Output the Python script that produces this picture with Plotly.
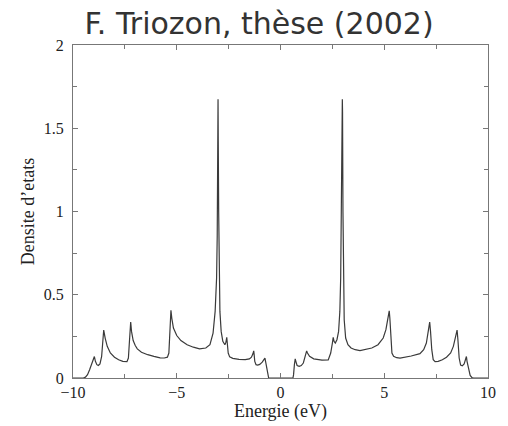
import plotly.graph_objects as go

# Energy (eV) and density of states
energy_neg = [-10, -9.5, -9.4, -9.3, -9.2, -9.1, -9.03, -8.97, -8.92, -8.85, -8.78, -8.7,
              -8.62, -8.56, -8.52, -8.45, -8.35, -8.2, -8.0, -7.8, -7.6, -7.4, -7.33,
              -7.29, -7.26, -7.22, -7.18, -7.1, -7.0, -6.9, -6.7, -6.4, -6.1, -5.8,
              -5.6, -5.45, -5.38, -5.33, -5.3, -5.28, -5.24, -5.16, -5.0, -4.8, -4.5,
              -4.2, -3.9, -3.6, -3.4, -3.25, -3.15, -3.08, -3.05, -3.03, -3.01, -3.0,
              -2.98, -2.96, -2.92, -2.86, -2.78, -2.68, -2.63, -2.59, -2.56, -2.52,
              -2.45, -2.3, -2.0, -1.7, -1.5, -1.4, -1.33, -1.29, -1.27, -1.24, -1.18,
              -1.1, -1.0, -0.88, -0.8, -0.75, -0.72, -0.66, -0.61, -0.57]
dos_neg = [0, 0, 0.005, 0.02, 0.05, 0.09, 0.12, 0.129, 0.1, 0.08, 0.075, 0.085,
           0.13, 0.22, 0.288, 0.24, 0.19, 0.15, 0.125, 0.11, 0.1, 0.098, 0.12,
           0.2, 0.3, 0.336, 0.28, 0.225, 0.195, 0.175, 0.155, 0.14, 0.13, 0.121,
           0.12, 0.125, 0.15, 0.25, 0.36, 0.407, 0.36, 0.3, 0.255, 0.225, 0.2,
           0.185, 0.175, 0.18, 0.2, 0.27, 0.4, 0.6, 0.85, 1.42, 1.674, 1.42,
           1.0, 0.6, 0.4, 0.28, 0.22, 0.2, 0.215, 0.244, 0.21, 0.15,
           0.127, 0.118, 0.112, 0.11, 0.115, 0.125, 0.145, 0.163, 0.14, 0.1, 0.08,
           0.078, 0.082, 0.095, 0.11, 0.119, 0.1, 0.05, 0.01, 0.0]

energy_pos = [0.6, 0.63, 0.67, 0.71, 0.74, 0.8, 0.9, 1.0, 1.1, 1.18, 1.23, 1.26, 1.3,
              1.4, 1.6, 2.0, 2.3, 2.42, 2.5, 2.54, 2.58, 2.64, 2.72, 2.8, 2.86, 2.9,
              2.93, 2.96, 2.98, 2.99, 3.01, 3.03, 3.07, 3.14, 3.25, 3.4, 3.6, 3.83,
              4.1, 4.4, 4.7, 4.95, 5.08, 5.16, 5.21, 5.24, 5.27, 5.31, 5.37, 5.45,
              5.6, 5.76, 6.0, 6.3, 6.72, 6.9, 7.03, 7.12, 7.19, 7.23, 7.29, 7.36,
              7.45, 7.6, 7.8, 8.0, 8.2, 8.33, 8.43, 8.51, 8.55, 8.61, 8.68, 8.76,
              8.85, 8.92, 8.96, 8.99, 9.06, 9.14, 9.22, 9.3, 10]
dos_pos = [0.0, 0.02, 0.08, 0.115, 0.1, 0.075, 0.07, 0.075, 0.09, 0.125, 0.155, 0.163, 0.15,
           0.13, 0.115, 0.107, 0.108, 0.15, 0.21, 0.244, 0.22, 0.21, 0.23, 0.28, 0.4, 0.6,
           1.0, 1.6, 1.674, 1.6, 1.0, 0.6, 0.35, 0.24, 0.2, 0.18, 0.17, 0.165,
           0.17, 0.18, 0.2, 0.24, 0.29, 0.35, 0.39, 0.403, 0.36, 0.24, 0.15, 0.13,
           0.122, 0.12, 0.125, 0.132, 0.146, 0.17, 0.21, 0.28, 0.336, 0.28, 0.17, 0.11,
           0.098, 0.1, 0.11, 0.125, 0.15, 0.19, 0.24, 0.288, 0.23, 0.12, 0.077, 0.073,
           0.085, 0.11, 0.129, 0.1, 0.05, 0.015, 0.003, 0, 0]

energy = energy_neg + energy_pos
dos = dos_neg + dos_pos

x_ticks = [-10, -5, 0, 5, 10]
x_minor_ticks = [-7.5, -2.5, 2.5, 7.5]
y_ticks = [0, 0.5, 1, 1.5, 2]
y_tick_labels = ["0", "0.5", "1", "1.5", "2"]
y_minor_ticks = [0.25, 0.75, 1.25, 1.75]

fig = go.Figure()
fig.add_trace(go.Scatter(x=energy, y=dos, mode="lines",
                         line=dict(color="#3a3a3a", width=1.2), hoverinfo="skip"))

tick_font = dict(family="Liberation Serif", size=16, color="#222")
title_font = dict(family="Liberation Serif", size=18, color="#222")
fig.update_layout(
    width=508, height=426,
    margin=dict(l=73, r=20, t=45, b=34),
    paper_bgcolor="white", plot_bgcolor="white",
    showlegend=False,
    title=dict(text="F. Triozon, thèse (2002)", x=259/508, xref="container", xanchor="center",
               y=1 - 23/426, yref="container", yanchor="middle",
               font=dict(family="DejaVu Sans", size=30, color="#333")),
    xaxis=dict(range=[-10, 10], tickvals=x_ticks, ticks="inside", ticklen=5,
               tickcolor="#777", showline=True, linecolor="#777", linewidth=1,
               mirror="ticks", showgrid=False, zeroline=False, tickfont=tick_font,
               minor=dict(ticks="inside", tickvals=x_minor_ticks, ticklen=4,
                          tickcolor="#777", showgrid=False),
               title=dict(text="Energie (eV)", font=title_font, standoff=0)),
    yaxis=dict(range=[0, 2], tickvals=y_ticks, ticktext=y_tick_labels, ticks="inside",
               ticklen=5, tickcolor="#777", showline=True, linecolor="#777", linewidth=1,
               mirror="ticks", showgrid=False, zeroline=False, tickfont=tick_font,
               ticklabelstandoff=5,
               minor=dict(ticks="inside", tickvals=y_minor_ticks, ticklen=4,
                          tickcolor="#777", showgrid=False),
               title=dict(text="Densite d\u2019etats", font=title_font, standoff=4)),
)

# remove the browser's default page margin so the figure sits at the window origin
fig.write_html("out.html",
               config={"displayModeBar": False, "staticPlot": True},
               post_script="document.body.style.margin='0';"
                           "document.documentElement.style.overflow='hidden';")
